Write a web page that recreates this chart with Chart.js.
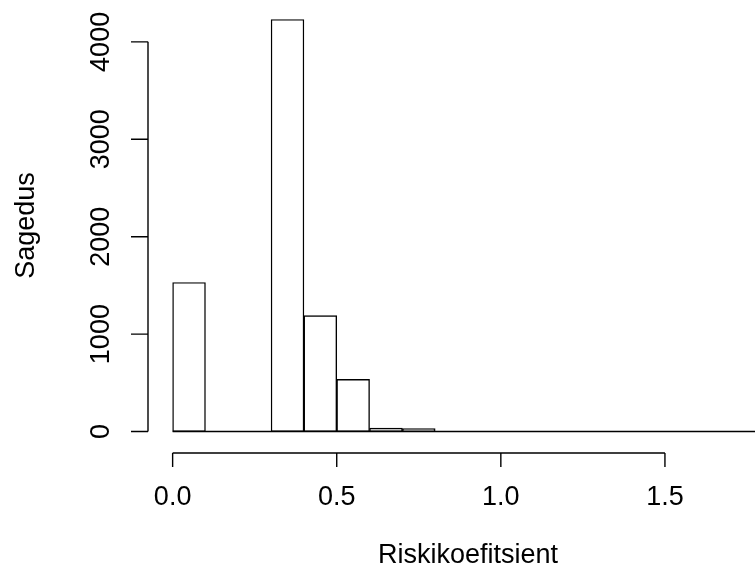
<!DOCTYPE html>
<html>
<head>
<meta charset="utf-8">
<script src="https://cdn.jsdelivr.net/npm/chart.js@4"></script>
<style>
  html, body { margin: 0; padding: 0; background: #fff; }
</style>
</head>
<body>
<canvas id="hist" width="755" height="568"></canvas>
<script>
// histogram bins (lower edges) and counts
const binStarts = [0.0, 0.1, 0.2, 0.3, 0.4, 0.5, 0.6, 0.7, 0.8, 0.9,
                   1.0, 1.1, 1.2, 1.3, 1.4, 1.5, 1.6, 1.7];
const counts    = [1530, 0, 0, 4230, 1190, 535, 35, 30, 0, 0,
                   0, 0, 0, 0, 0, 0, 0, 0];
const binWidth = 0.1;
const xTicks = [0.0, 0.5, 1.0, 1.5];
const yTicks = [0, 1000, 2000, 3000, 4000];
const xTitle = 'Riskikoefitsient';
const yTitle = 'Sagedus';

const font = '27px "Liberation Sans", Arial, sans-serif';

const rAxes = {
    id: 'rAxes',
    afterDraw: function (chart) {
        const ctx = chart.ctx;
        const xs = chart.scales.x;
        const ys = chart.scales.y;
        const area = chart.chartArea;
        ctx.save();
        ctx.strokeStyle = '#000';
        ctx.fillStyle = '#000';
        ctx.lineWidth = 1.4;

        // zero line along the bottom of the empty bins
        const y0 = ys.getPixelForValue(0);
        ctx.beginPath();
        ctx.moveTo(xs.getPixelForValue(binStarts[0]), y0);
        ctx.lineTo(xs.getPixelForValue(binStarts[binStarts.length - 1] + binWidth), y0);
        ctx.stroke();

        // x axis
        const ax = area.bottom + 5;
        ctx.beginPath();
        ctx.moveTo(xs.getPixelForValue(xTicks[0]), ax);
        ctx.lineTo(xs.getPixelForValue(xTicks[xTicks.length - 1]), ax);
        xTicks.forEach(function (t) {
            const px = xs.getPixelForValue(t);
            ctx.moveTo(px, ax);
            ctx.lineTo(px, ax + 14);
        });
        ctx.stroke();
        ctx.font = font;
        ctx.textAlign = 'center';
        ctx.textBaseline = 'middle';
        xTicks.forEach(function (t) {
            ctx.fillText(t.toFixed(1), xs.getPixelForValue(t), ax + 45);
        });
        ctx.fillText(xTitle, xs.getPixelForValue(0.9), ax + 103);

        // y axis
        const ay = area.left - 1;
        ctx.beginPath();
        ctx.moveTo(ay, ys.getPixelForValue(yTicks[0]));
        ctx.lineTo(ay, ys.getPixelForValue(yTicks[yTicks.length - 1]));
        yTicks.forEach(function (t) {
            const py = ys.getPixelForValue(t);
            ctx.moveTo(ay, py);
            ctx.lineTo(ay - 17, py);
        });
        ctx.stroke();
        yTicks.forEach(function (t) {
            ctx.save();
            ctx.translate(ay - 46, ys.getPixelForValue(t));
            ctx.rotate(-Math.PI / 2);
            ctx.fillText(String(t), 0, 0);
            ctx.restore();
        });
        ctx.save();
        ctx.translate(ay - 121, (area.top + area.bottom) / 2);
        ctx.rotate(-Math.PI / 2);
        ctx.fillText(yTitle, 0, 0);
        ctx.restore();

        ctx.restore();
    }
};

new Chart(document.getElementById('hist'), {
    type: 'bar',
    data: {
        datasets: [{
            data: binStarts.map(function (b, i) {
                return { x: b + binWidth / 2, y: counts[i] };
            }),
            backgroundColor: '#fff',
            borderColor: '#000',
            borderWidth: 1.4,
            borderSkipped: false,
            barPercentage: 1,
            categoryPercentage: 1
        }]
    },
    options: {
        responsive: false,
        animation: false,
        events: [],
        layout: { padding: { left: 149, right: 0, top: 3, bottom: 120 } },
        plugins: {
            legend: { display: false },
            tooltip: { enabled: false }
        },
        scales: {
            x: { type: 'linear', offset: false, min: -0.072, max: 1.7744, display: false },
            y: { min: -169, max: 4399, display: false }
        }
    },
    plugins: [rAxes]
});
</script>
</body>
</html>
